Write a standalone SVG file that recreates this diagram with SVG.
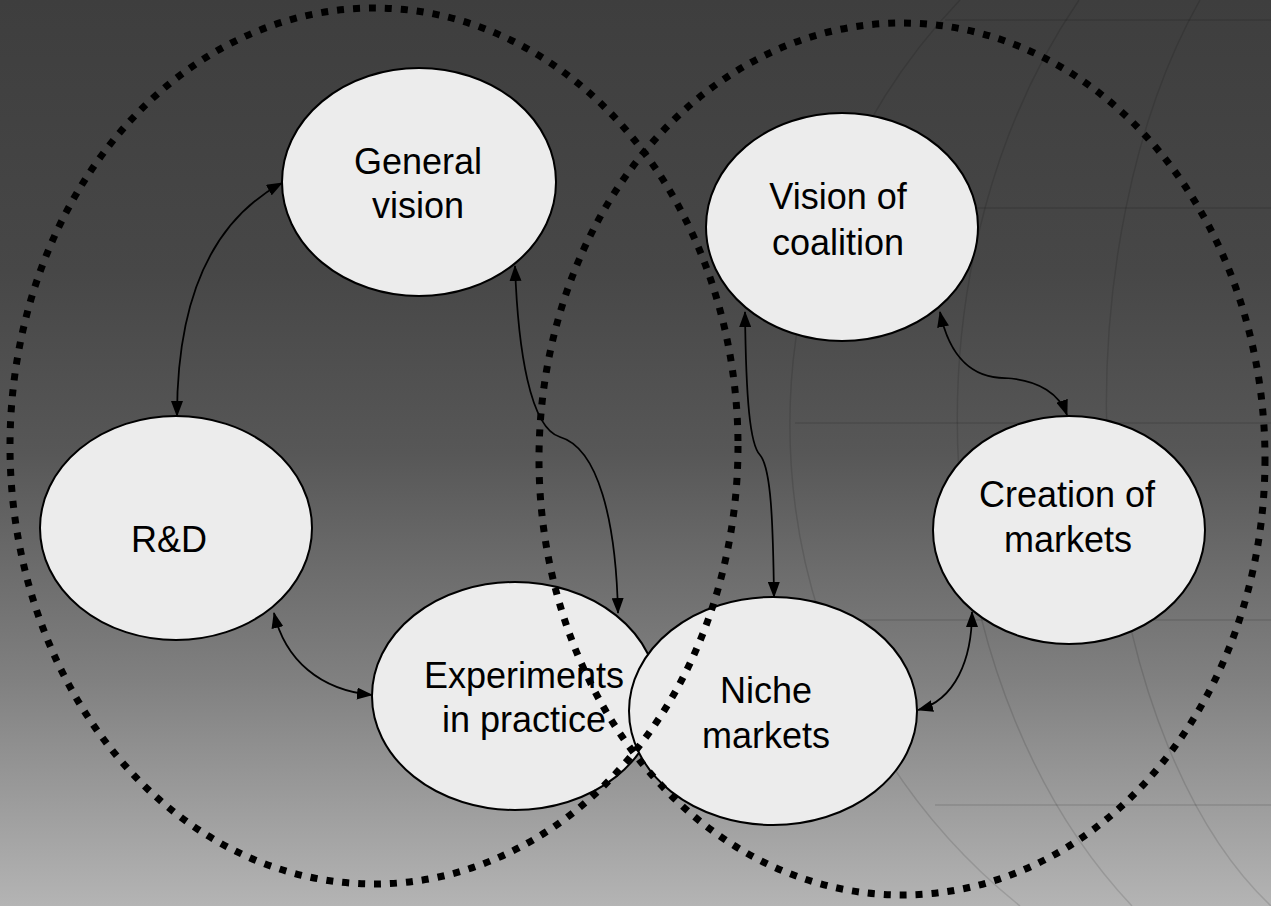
<svg xmlns="http://www.w3.org/2000/svg" width="1271" height="906" viewBox="0 0 1271 906">
<defs>
<linearGradient id="bg" x1="0" y1="0" x2="0" y2="1">
<stop offset="0" stop-color="#3e3e3e"/>
<stop offset="0.3" stop-color="#474747"/>
<stop offset="0.5" stop-color="#575757"/>
<stop offset="0.75" stop-color="#808080"/>
<stop offset="1" stop-color="#b4b4b4"/>
</linearGradient>
<marker id="ah" markerUnits="userSpaceOnUse" markerWidth="16" markerHeight="12" refX="15" refY="6" orient="auto-start-reverse" viewBox="0 0 16 12">
<path d="M0,0 L16,6 L0,12 z" fill="#000"/>
</marker>
<style>
.node{fill:#ececec;stroke:#000;stroke-width:2}
.lbl{font-family:"Liberation Sans",Arial,sans-serif;font-size:36px;fill:#000;text-anchor:middle}
.conn{fill:none;stroke:#000;stroke-width:1.75;marker-start:url(#ah);marker-end:url(#ah)}
.dot{fill:none;stroke:#000;stroke-width:7;stroke-dasharray:7 9}
.globe{fill:none;stroke:#000;stroke-opacity:0.12;stroke-width:1.5}
</style>
</defs>
<rect width="1271" height="906" fill="url(#bg)"/>
<g id="globe">
<path class="globe" d="M960,0 A617,617 0 0 0 1020,906"/>
<path class="globe" d="M1079,0 A455,617 0 0 0 1132,906"/>
<path class="globe" d="M1200,0 A300,560 0 0 0 1271,906"/>
<path class="globe" d="M945,20 H1271 M840,208 H1271 M795,423 H1271 M828,620 H1271 M935,805 H1271"/>
</g>
<g id="connectors">
<path class="conn" d="M177,416 C177,330 195,230 282,183"/>
<path class="conn" d="M515,266 C518,350 530,428 560,437 C598,448 616,520 618,613"/>
<path class="conn" d="M274,613 C285,660 320,690 372,695"/>
<path class="conn" d="M745,312 C746,400 750,445 760,455 C771,468 773,520 774,597"/>
<path class="conn" d="M940,312 C950,360 975,378 1005,378 C1040,380 1060,395 1067,415"/>
<path class="conn" d="M972,612 C972,660 955,700 918,710"/>
</g>
<g id="node-general-vision">
<ellipse class="node" cx="419" cy="182" rx="137" ry="114"/>
<text class="lbl" x="418" y="174">General</text>
<text class="lbl" x="418" y="218">vision</text>
</g>
<g id="node-rd">
<ellipse class="node" cx="176" cy="528" rx="136" ry="112"/>
<text class="lbl" x="169" y="552">R&amp;D</text>
</g>
<g id="node-vision-coalition">
<ellipse class="node" cx="842" cy="227" rx="136" ry="114"/>
<text class="lbl" x="838" y="209">Vision of</text>
<text class="lbl" x="838" y="255">coalition</text>
</g>
<g id="node-creation-markets">
<ellipse class="node" cx="1069" cy="530" rx="136" ry="114"/>
<text class="lbl" x="1067" y="507">Creation of</text>
<text class="lbl" x="1068" y="552">markets</text>
</g>
<g id="node-experiments">
<ellipse class="node" cx="515" cy="696" rx="143" ry="114"/>
<text class="lbl" x="524" y="688">Experiments</text>
<text class="lbl" x="524" y="732">in practice</text>
</g>
<g id="node-niche-markets">
<ellipse class="node" cx="773" cy="711" rx="144" ry="114"/>
<text class="lbl" x="766" y="703">Niche</text>
<text class="lbl" x="766" y="748">markets</text>
</g>
<g id="regions">
<ellipse class="dot" cx="374" cy="446" rx="364" ry="438"/>
<ellipse class="dot" cx="902" cy="459" rx="363" ry="436"/>
</g>
</svg>
